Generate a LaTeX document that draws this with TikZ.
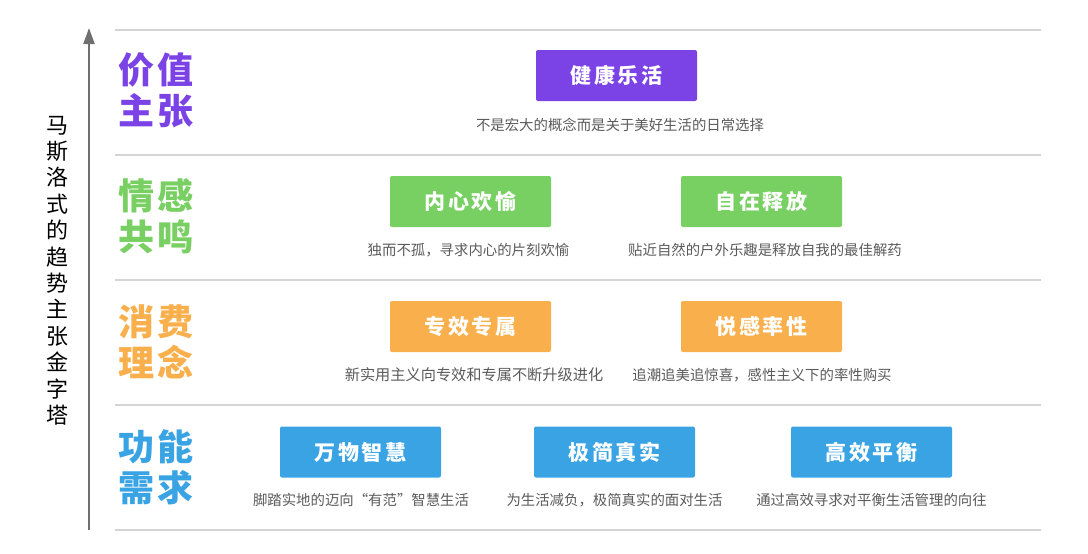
\documentclass[tikz,border=0pt]{standalone}
\usepackage{fontspec}
\setmainfont{Noto Sans CJK SC}
\usetikzlibrary{arrows.meta}
\definecolor{cpurple}{HTML}{7B42E6}
\definecolor{cgreen}{HTML}{78CF62}
\definecolor{corange}{HTML}{F9B04C}
\definecolor{cblue}{HTML}{39A3E3}
\definecolor{capgray}{HTML}{5A5A5A}
\definecolor{linegray}{HTML}{D4D4D4}
\definecolor{arrowgray}{HTML}{6F6F6F}
\begin{document}
\begin{tikzpicture}[x=1pt,y=-1pt,
  sepline/.style={draw=linegray, line width=1.5pt},
  tagbox/.style={rounded corners=2pt, minimum width=161pt, minimum height=51pt, inner sep=0pt, text=white, font=\fontsize{21}{24}\selectfont\bfseries\addfontfeature{LetterSpace=14}},
  captext/.style={text=capgray, font=\fontsize{14.4}{17}\selectfont, inner sep=0pt},
  catlabel/.style={font=\fontsize{36}{41}\selectfont\bfseries\addfontfeature{LetterSpace=10}, align=left, inner sep=0pt, anchor=west},
  vtext/.style={font=\fontsize{22}{26.4}\selectfont, align=center, inner sep=0pt}]
\useasboundingbox (0,0) rectangle (1088,554);
% separators
\coordinate (l0a) at (115,30);  \coordinate (l0b) at (1041,30);
\coordinate (l1a) at (115,155); \coordinate (l1b) at (1041,155);
\coordinate (l2a) at (115,280); \coordinate (l2b) at (1041,280);
\coordinate (l3a) at (115,405); \coordinate (l3b) at (1041,405);
\coordinate (l4a) at (115,530); \coordinate (l4b) at (1041,530);
\foreach \i in {0,...,4} \draw[sepline] (l\i a) -- (l\i b);
% axis arrow
\coordinate (axb) at (89,530);
\coordinate (axt) at (89,28);
\draw[draw=arrowgray, line width=2pt, -{Triangle[length=16pt,width=11pt]}] (axb) -- (axt);
\node[vtext] (vt) at (57,270.5) {马\\斯\\洛\\式\\的\\趋\\势\\主\\张\\金\\字\\塔};
% categories
\node[catlabel, text=cpurple] (c1) at (118,90.5) {价值\\主张};
\node[catlabel, text=cgreen] (c2) at (118,216) {情感\\共鸣};
\node[catlabel, text=corange] (c3) at (118,341.5) {消费\\理念};
\node[catlabel, text=cblue] (c4) at (118,467) {功能\\需求};
% row 1
\node[tagbox, fill=cpurple] (b11) at (616.5,75.5) {健康乐活};
\node[captext] (t11) at (620,125) {不是宏大的概念而是关于美好生活的日常选择};
% row 2
\node[tagbox, fill=cgreen] (b21) at (470.5,201.5) {内心欢愉};
\node[captext] (t21) at (468.5,250) {独而不孤，寻求内心的片刻欢愉};
\node[tagbox, fill=cgreen] (b22) at (761.5,201.5) {自在释放};
\node[captext] (t22) at (765,250) {贴近自然的户外乐趣是释放自我的最佳解药};
% row 3
\node[tagbox, fill=corange] (b31) at (470.5,326.5) {专效专属};
\node[captext, font=\fontsize{15.2}{18}\selectfont] (t31) at (474,375) {新实用主义向专效和专属不断升级进化};
\node[tagbox, fill=corange] (b32) at (761.5,326.5) {悦感率性};
\node[captext] (t32) at (762,375) {追潮追美追惊喜，感性主义下的率性购买};
% row 4
\node[tagbox, fill=cblue] (b41) at (360.5,452) {万物智慧};
\node[captext] (t41) at (361,500) {脚踏实地的迈向“有范”智慧生活};
\node[tagbox, fill=cblue] (b42) at (614.5,452) {极简真实};
\node[captext] (t42) at (614.5,500) {为生活减负，极简真实的面对生活};
\node[tagbox, fill=cblue] (b43) at (871.5,452) {高效平衡};
\node[captext] (t43) at (871.5,500) {通过高效寻求对平衡生活管理的向往};
\end{tikzpicture}
\end{document}
